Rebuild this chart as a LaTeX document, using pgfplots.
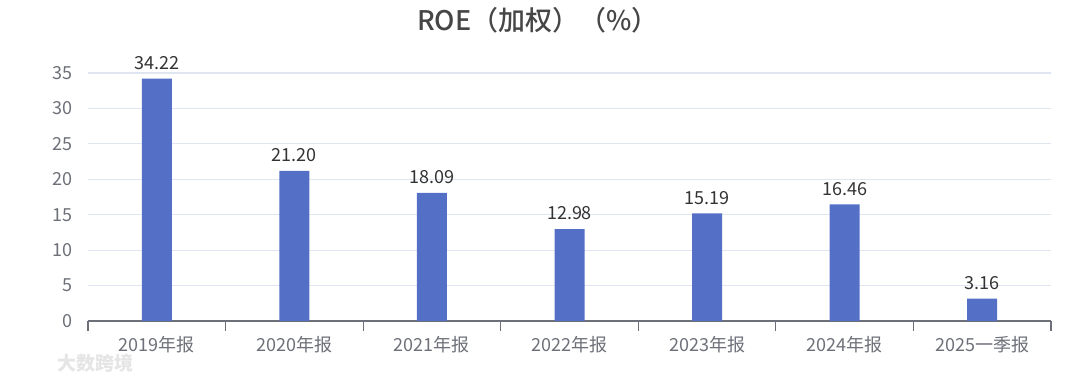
\documentclass[border=0pt]{standalone}
\usepackage{pgfplots}
\pgfplotsset{compat=1.18}
\usepackage{fontspec}
\setmainfont{Noto Sans CJK SC}
\newfontfamily\titlefont{Noto Sans CJK SC Medium}
\definecolor{barblue}{HTML}{5470C6}
\definecolor{axisgray}{HTML}{6E7079}
\definecolor{gridgray}{HTML}{E0E6F1}
\definecolor{titlegray}{HTML}{464646}
\definecolor{labelgray}{HTML}{333333}
\begin{document}
\begin{tikzpicture}
\useasboundingbox (-44pt,-29pt) rectangle (496pt,160.5pt);
\begin{axis}[
  at={(0,0)}, anchor=south west,
  scale only axis, width=481.5pt, height=124pt,
  xmin=-0.5, xmax=6.5, ymin=0, ymax=35,
  ytick={0,5,...,35},
  xtick={0,...,6},
  xticklabels={2019年报,2020年报,2021年报,2022年报,2023年报,2024年报,2025一季报},
  minor xtick={-0.5,0.5,...,6.5},
  major x tick style={draw=none},
  minor x tick style={axisgray, line width=0.6pt},
  minor tick length=5pt,
  tick align=outside,
  axis x line*=bottom,
  axis y line*=left,
  x axis line style={axisgray, line width=0.6pt, -},
  y axis line style={draw=none},
  ytick style={draw=none},
  ymajorgrids,
  grid style={gridgray, line width=0.6pt},
  /pgf/number format/assume math mode=true,
  yticklabel style={font=\fontsize{9}{10}\selectfont, text=axisgray},
  xticklabel style={font=\fontsize{9}{10}\selectfont, text=axisgray, yshift=0pt},
  ybar, bar width=15pt,
  clip=false,
  nodes near coords={\pgfmathprintnumber[fixed,fixed zerofill,precision=2]{\pgfplotspointmeta}},
  nodes near coords style={font=\fontsize{9}{10}\selectfont, text=labelgray, anchor=south, yshift=1pt},
]
\addplot[fill=barblue, draw=none] coordinates {
  (0,34.22) (1,21.20) (2,18.09) (3,12.98) (4,15.19) (5,16.46) (6,3.16)
};
\end{axis}
\node[font=\fontsize{13.5}{15}\selectfont\titlefont, text=titlegray] at (225pt,150.5pt) {ROE（加权）（\%）};
\node[font=\fontsize{9.5}{11}\selectfont\bfseries, text=gray!20, anchor=west] at (-19pt,-21pt) {大数跨境};
\end{tikzpicture}
\end{document}
